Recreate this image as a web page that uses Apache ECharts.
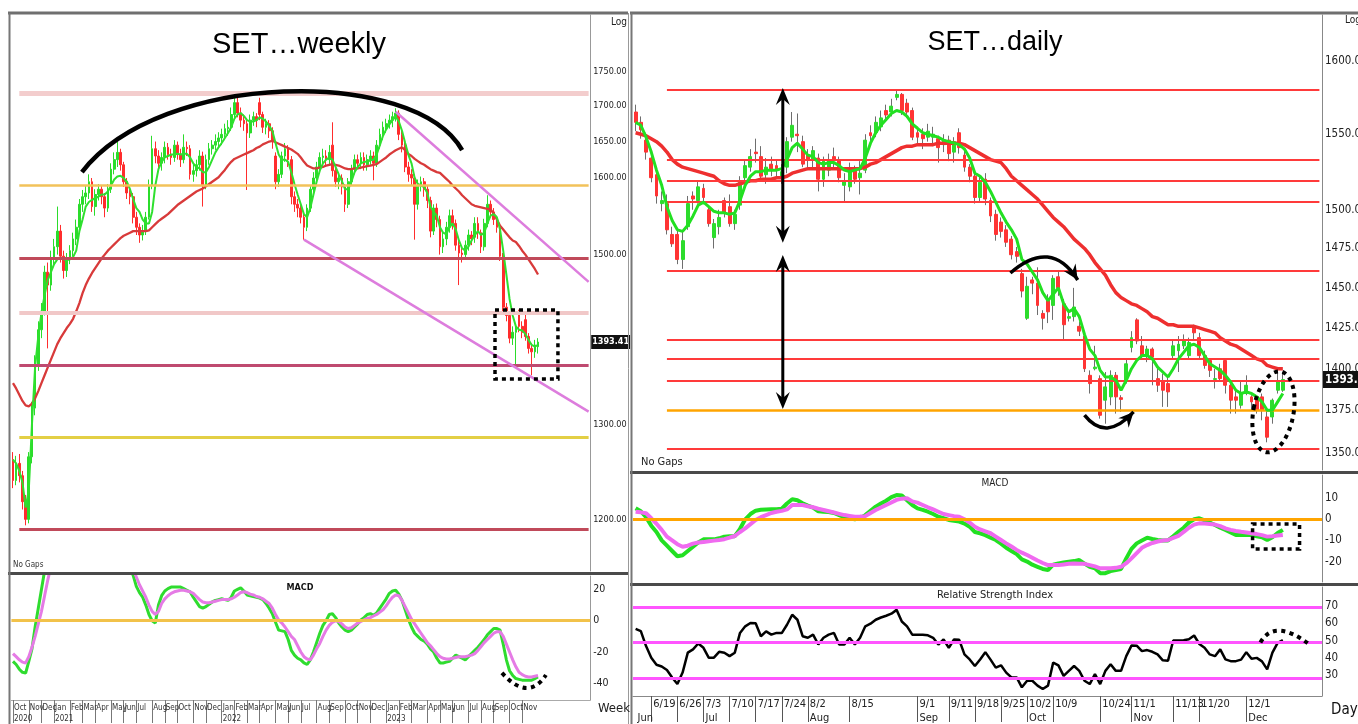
<!DOCTYPE html>
<html><head><meta charset="utf-8">
<script src="https://cdn.jsdelivr.net/npm/echarts/dist/echarts.min.js"></script>
<style>html,body{margin:0;padding:0;background:#fff}#c{width:1358px;height:724px}</style>
</head><body><div id="c"></div>
<script>
// ---------------- WEEKLY DATA (SET weekly, Oct 2020 - Dec 2023) ----------------
const weekOpen = [1262,1240,1258,1245,1218,1200,1265,1318,1368,1408,
 1430,1478,1462,1495,1510,1530,1498,1480,1495,1505,
 1520,1535,1565,1575,1580,1595,1562,1578,1585,1575,
 1560,1585,1612,1625,1635,1618,1595,1580,1575,1548,
 1535,1525,1530,1548,1590,1640,1630,1620,1628,1642,
 1632,1628,1645,1632,1625,1642,1640,1605,1610,1618,
 1630,1590,1625,1640,1645,1650,1655,1660,1668,1670,
 1688,1705,1690,1680,1675,1662,1680,1685,1705,1688,
 1670,1675,1665,1630,1595,1605,1630,1640,1625,1575,
 1565,1560,1548,1535,1560,1585,1600,1615,1628,1630,
 1625,1645,1610,1595,1600,1588,1565,1595,1612,1625,
 1620,1628,1618,1625,1630,1620,1645,1660,1670,1675,
 1680,1685,1690,1660,1645,1615,1605,1600,1565,1590,
 1595,1585,1570,1530,1560,1545,1510,1520,1535,1550,
 1540,1512,1502,1500,1512,1525,1522,1540,1528,1510,
 1540,1565,1555,1545,1535,1498,1435,1425,1398,1405,
 1428,1412,1420,1400,1386,1382,1388];
const weekClose = [1240,1258,1245,1218,1200,1265,1318,1368,1408,1430,
 1478,1462,1495,1510,1530,1498,1480,1495,1505,1520,
 1535,1565,1575,1580,1595,1562,1578,1585,1575,1560,
 1585,1612,1625,1635,1618,1595,1580,1575,1548,1535,
 1525,1530,1548,1590,1640,1630,1620,1628,1642,1632,
 1628,1645,1632,1625,1642,1640,1605,1610,1618,1630,
 1590,1625,1640,1645,1650,1655,1660,1668,1670,1688,
 1705,1690,1680,1675,1662,1680,1685,1680,1688,1670,
 1675,1665,1650,1595,1605,1630,1640,1625,1575,1565,
 1560,1548,1535,1560,1585,1600,1615,1628,1630,1625,
 1635,1610,1595,1600,1588,1565,1595,1612,1625,1620,
 1628,1618,1625,1630,1620,1645,1660,1670,1675,1680,
 1685,1690,1660,1645,1615,1605,1600,1565,1590,1595,
 1585,1570,1530,1560,1545,1510,1520,1535,1550,1540,
 1512,1502,1500,1512,1525,1520,1540,1528,1510,1540,
 1565,1555,1545,1535,1498,1435,1425,1398,1405,1410,
 1412,1405,1400,1386,1382,1390,1393.41];
const weekLow = [1232,1235,1238,1210,1194,1196,1258,1310,1360,1398,
 1425,1386,1455,1485,1500,1490,1470,1472,1488,1498,
 1512,1530,1555,1565,1572,1555,1550,1570,1565,1548,
 1555,1580,1605,1615,1610,1588,1572,1565,1540,1525,
 1515,1518,1525,1545,1585,1620,1612,1610,1620,1625,
 1618,1622,1625,1615,1620,1630,1598,1595,1602,1610,
 1562,1585,1618,1632,1638,1642,1645,1652,1658,1665,
 1682,1684,1670,1665,1584,1655,1672,1670,1680,1662,
 1660,1655,1640,1585,1588,1600,1622,1615,1565,1555,
 1548,1540,1519,1530,1555,1578,1595,1608,1618,1615,
 1618,1602,1588,1585,1578,1555,1560,1590,1605,1612,
 1612,1610,1610,1618,1597,1615,1640,1652,1662,1668,
 1670,1678,1652,1635,1608,1595,1590,1519,1558,1582,
 1575,1560,1522,1525,1535,1500,1502,1512,1528,1532,
 1505,1462,1490,1494,1505,1512,1515,1520,1502,1505,
 1535,1548,1538,1528,1492,1428,1418,1392,1390,1367,
 1405,1398,1395,1380,1355,1375,1380];
const weekHigh = [1270,1266,1268,1250,1225,1270,1325,1378,1418,1440,
 1486,1490,1505,1520,1562,1538,1505,1502,1512,1528,
 1545,1572,1584,1590,1605,1600,1585,1592,1590,1580,
 1592,1620,1635,1650,1640,1622,1600,1590,1580,1555,
 1540,1538,1555,1598,1658,1650,1638,1635,1650,1648,
 1640,1652,1650,1640,1660,1650,1645,1620,1625,1638,
 1636,1632,1648,1652,1660,1663,1668,1675,1680,1698,
 1716,1712,1698,1688,1682,1688,1692,1690,1712,1692,
 1682,1680,1670,1635,1612,1636,1648,1645,1630,1582,
 1572,1565,1555,1565,1590,1608,1622,1635,1640,1638,
 1645,1677,1615,1608,1605,1592,1600,1618,1632,1632,
 1635,1635,1632,1638,1636,1652,1668,1678,1682,1688,
 1692,1697,1694,1665,1650,1622,1612,1605,1598,1602,
 1600,1590,1575,1565,1566,1550,1528,1542,1558,1558,
 1545,1518,1510,1518,1532,1530,1548,1548,1532,1546,
 1577,1570,1560,1550,1540,1502,1440,1430,1412,1415,
 1432,1418,1428,1404,1392,1396,1398];
const weekMaShort = [1262,1258,1250,1238,1212,1230,1300,1365,1400,1428,
 1450,1468,1478,1488,1494,1496,1494,1493,1494,1497,
 1505,1530,1545,1562,1568,1571,1573,1575,1578,1578,
 1582,1590,1598,1602,1603,1600,1595,1585,1572,1560,
 1555,1545,1540,1540,1555,1590,1612,1622,1628,1630,
 1632,1632,1633,1632,1633,1633,1628,1620,1615,1613,
 1608,1608,1615,1625,1635,1642,1648,1655,1662,1670,
 1682,1688,1690,1686,1680,1678,1678,1680,1684,1682,
 1678,1672,1665,1648,1632,1625,1625,1622,1608,1592,
 1578,1565,1552,1548,1560,1578,1595,1610,1620,1625,
 1628,1625,1615,1605,1596,1585,1585,1595,1608,1615,
 1620,1622,1622,1624,1625,1632,1645,1658,1667,1674,
 1680,1685,1678,1665,1648,1632,1620,1600,1592,1590,
 1588,1580,1562,1555,1550,1535,1528,1526,1535,1540,
 1532,1518,1508,1505,1510,1518,1525,1530,1525,1528,
 1540,1550,1552,1548,1532,1505,1475,1445,1425,1412,
 1408,1407,1403,1396,1390,1388,1390];
const weekMaLong = [1346,1340,1333,1326,1321,1320,1323,1329,1337,1346,
 1355,1364,1373,1382,1391,1398,1404,1410,1415,1421,
 1430,1440,1452,1462,1470,1477,1483,1489,1495,1500,
 1505,1509,1513,1517,1521,1524,1526,1528,1530,1530,
 1530,1530,1530,1531,1535,1539,1543,1546,1549,1552,
 1556,1560,1564,1567,1570,1573,1576,1579,1582,1584,
 1586,1589,1592,1595,1598,1601,1606,1611,1617,1622,
 1626,1628,1630,1632,1634,1636,1638,1641,1643,1646,
 1648,1650,1651,1649,1647,1645,1643,1641,1639,1636,
 1633,1628,1622,1617,1615,1613,1613,1614,1615,1617,
 1618,1619,1618,1617,1615,1613,1612,1612,1613,1613,
 1614,1615,1616,1617,1618,1619,1622,1625,1628,1632,
 1635,1638,1640,1642,1638,1633,1630,1626,1623,1620,
 1618,1615,1612,1610,1608,1607,1603,1599,1595,1590,
 1586,1582,1577,1573,1569,1565,1563,1562,1561,1560,
 1559,1558,1553,1545,1537,1532,1527,1522,1518,1516,
 1511,1505,1500,1494,1488,1482,1475];
const weekMacd = [-26,-28,-31,-33,-33.5,-26,-18,-4,8,20,
 32,42,50,56,62,64,63,61,60,58,
 58,60,62,63,64,62,60,58,56,53,
 52,52,52,51,48,43,38,33,29,22,
 18,15,10,4,0,-1.5,10,16,19,20.5,
 21.5,21.5,21.5,21.5,20.5,19.5,18.5,15,12,9,
 8,9,10.5,12,13,13.5,14,13.5,13,15,
 19,20,21,19,16.5,16,15.5,15,14.5,13.5,
 11,8,4.5,-1,-6,-6.5,-7,-12,-19,-22,
 -24,-25,-27,-28,-25,-20,-14,-8,-3,0,
 4,4.5,2,-1.5,-4,-6,-7,-6,-4,-2,
 0.5,2,4,4.5,3.5,5,8,11,14,17.5,
 19,19.5,17,13,7,1,-4,-8,-10,-12,
 -13,-15,-18,-20,-24,-27,-27,-26.5,-26,-24,
 -22,-23,-24,-25,-23,-21,-19,-17,-14.5,-12,
 -9,-7,-5,-5,-6,-15,-25,-32,-35,-37,
 -37.5,-38,-38,-38,-38,-37,-36];
const weekSignal = [-21,-23,-25,-26.5,-27,-23,-17,-10,-2,6,
 16,26,35,42,48,53,57,59,60,60,
 60,60,61,62,62,62,61,60,58,56,
 55,54,53,52,50,47,43,38,33,28,
 23,19,15,10,6,4,6,11,14,16,
 17.5,18.5,19,19.5,19.5,19,18.5,17.5,15.5,13.5,
 12,11.5,11.5,12,12.5,13,13.5,13.5,13.5,14,
 15,16.5,18,18.5,18,17,16.5,15.5,15,14,
 12.5,11,8,4,0.5,-1.5,-4,-7,-10,-12,
 -16,-20,-23,-24.5,-25,-22,-18,-14.5,-10,-6,
 -3,-1,0,-0.5,-2,-4,-5,-4.5,-3,-1.5,
 -0.5,0.5,1.5,2,3,4,5.5,7,9.5,12.5,
 15,16.5,16,13,9,5,1,-2,-5,-8,
 -11,-14,-16,-18.5,-21,-23,-24,-24.5,-24.5,-24,
 -23.5,-23,-23,-23,-22.5,-22,-21,-19,-16.5,-14,
 -12,-10,-8,-7,-7,-10,-15,-20,-25,-29.5,
 -33,-34.5,-35.5,-36,-36,-35.5,-35];
const weekLevels = [1719, 1590, 1495, 1428, 1366, 1286, 1190];
const weekPriceTicks = [1750, 1700, 1650, 1600, 1500, 1300, 1200];
const weekMacdTicks = [20, 0, -20, -40];
const weekLast = 1393.41;

// ---------------- DAILY DATA (SET daily, 14 Jun - 14 Dec 2023) ----------------
const dayOpen = [1565,1558,1546,1534,1523,1504,1504,1484,1484,1468,
 1489,1509,1506,1514,1500,1482,1489,1506,1502,1491,
 1503,1521,1528,1538,1535,1523,1530,1529,1521,1528,
 1548,1550,1545,1536,1533,1534,1520,1526,1535,1533,
 1516,1515,1526,1521,1526,1551,1551,1555,1566,1565,
 1575,1577,1571,1566,1551,1550,1548,1548,1547,1543,
 1546,1538,1551,1536,1528,1522,1508,1520,1506,1497,
 1492,1487,1481,1473,1459,1431,1455,1453,1434,1442,
 1439,1457,1440,1431,1432,1426,1420,1396,1400,1394,
 1381,1383,1396,1382.5,1393,1413,1430,1414,1408,1412,
 1394,1392,1391,1408,1411,1414,1408,1426,1419,1408,
 1405,1393.5,1400,1405,1390,1383,1378,1385,1383,1383,
 1383,1371,1371,1387,1387];
const dayClose = [1558,1553,1538,1521,1509,1506,1487,1478,1468,1480,
 1504,1507,1515,1508,1491,1491,1495,1498,1491,1497,
 1518,1529,1535,1537,1522,1528,1526,1526,1525,1545,
 1556,1549,1530,1533,1539,1520,1532,1533,1533,1521,
 1519,1526,1520,1524,1546,1549,1558,1561,1563,1569,
 1577,1566,1565,1548,1548,1547,1552,1550,1541,1546,
 1537,1545,1541,1528,1522,1508,1518,1507,1496,1484,
 1486,1479,1471,1470,1448,1451,1453,1439,1431,1435,
 1456,1450,1427,1432,1438,1423,1400,1391,1401,1372,
 1389,1396,1383,1381.5,1403,1419,1417,1408,1412,1407,
 1390,1387,1386,1414,1415,1417,1416,1422,1408,1402,
 1399,1394,1394,1390,1381,1381,1385,1390,1380,1375,
 1375,1359,1381,1392,1393.41];
const dayLow = [1552,1547,1533,1518,1504,1499,1484,1476,1465,1462,
 1487,1500,1504,1505,1489,1475,1484,1495,1489,1487,
 1500,1516,1525,1531,1519,1517,1522,1521,1517,1524,
 1545,1538,1528,1526,1528,1512,1515,1522,1527,1518,
 1505,1512,1517,1510,1524,1544,1548,1552,1559,1562,
 1573,1563,1561,1546,1543,1540,1545,1542,1531,1538,
 1532,1531,1537,1525,1518,1504,1505,1503,1492,1480,
 1482,1476,1468,1466,1444,1430,1446,1433,1424,1428,
 1430,1445,1417,1429,1429,1420,1398,1385,1399,1370,
 1367,1378,1373,1374,1391,1410,1415,1406,1404,1390,
 1386,1377,1377,1406,1398,1412,1406,1418,1406,1400,
 1395,1388,1392,1385,1373,1373,1376,1384,1375,1373,
 1369,1356,1367,1385,1386];
const dayHigh = [1570,1562,1551,1536,1526,1512,1510,1489,1487,1486,
 1509,1512,1519,1517,1502,1494,1500,1508,1510,1500,
 1522,1533,1540,1547,1542,1534,1535,1533,1530,1548,
 1565,1564,1549,1540,1542,1537,1535,1537,1541,1535,
 1524,1531,1529,1532,1550,1556,1562,1566,1570,1574,
 1580,1578,1574,1568,1555,1554,1557,1555,1549,1550,
 1549,1548,1554,1540,1530,1525,1522,1524,1508,1500,
 1495,1490,1483,1476,1462,1457,1457,1463,1436,1446,
 1458,1461,1443,1435,1450,1429,1422,1399,1414,1396,
 1398,1399,1398,1384,1406,1423,1431,1420,1414,1413,
 1400,1397,1395,1417,1420,1421,1419,1427,1422,1411,
 1406,1400,1403,1406,1393,1388,1392,1396,1384,1383,
 1385,1375,1382,1398,1398];
const dayMaShort = [1558,1556,1548,1538,1526,1516,1502,1493,1487,1486,
 1490,1496,1503,1505,1502,1499,1498,1498,1497,1498,
 1506,1516,1522,1525,1525,1526,1526,1526,1527,1533,
 1541,1544,1540,1536,1535,1531,1530,1531,1531,1529,
 1526,1525,1526,1527,1534,1544,1551,1556,1560,1564,
 1566,1565,1562,1557,1554,1551,1550,1549,1548,1546,
 1545,1544,1543,1540,1534,1524,1522,1518,1512,1505,
 1498,1492,1487,1481,1468,1465,1460,1455,1447,1442,
 1446,1450,1440,1435,1437,1432,1421,1412,1408,1399,
 1395,1395,1393,1387,1393,1400,1405,1408,1408,1406,
 1401,1398,1395,1400,1406,1410,1414,1415,1413,1408,
 1403,1401,1399,1396,1392,1387,1385,1386,1385,1383,
 1380,1375,1375,1380,1385];
const dayMaLong = [1551,1550,1549,1547,1545,1542,1538,1533,1530,1528,
 1527,1526,1525,1524,1523,1522,1519,1517,1516,1516,
 1517,1518,1519,1519,1520,1520,1520,1521,1521,1522,
 1524,1525,1526,1527,1527,1527,1527,1527,1527,1527,
 1527,1527,1527,1527,1528,1530,1531,1533,1535,1537,
 1539,1541,1542,1542,1543,1543,1543,1543,1544,1544,
 1544,1544,1544,1543,1541,1539,1537,1535,1533,1532,
 1531,1527,1522,1519,1516,1513,1510,1507,1503,1499,
 1495,1492,1489,1485,1481,1478,1475,1471,1466,1462,
 1458,1452,1447,1444,1442,1440,1439,1437,1435,1432,
 1431,1429,1427,1427,1426,1426,1426,1426,1425,1424,
 1423,1422,1419,1417,1415,1414,1412,1410,1408,1406,
 1405,1402,1401,1400,1400];
const dayMacd = [5.2,3.8,1,-3,-6,-10,-12.5,-15,-17.5,-17,
 -15,-13,-11,-9.5,-9.5,-9.5,-9,-8.2,-8,-8,
 -4.5,0,2.5,4.1,4.5,4.7,4.8,4.8,5,7.5,
 9.5,9,7.6,6.5,5.5,3.8,3.6,3.5,3,2,
 1,0.5,0,0.5,2,4,6,7.5,8.8,10.5,
 11.5,11.3,9,6.8,5.2,4.5,3.6,2.5,1.2,0.5,
 -0.3,-0.7,-1.1,-2,-3.5,-6,-6.6,-7.5,-8.7,-9.8,
 -11.5,-13.5,-15,-16.5,-19,-20,-21.5,-22.5,-23.5,-24,
 -21.5,-20.9,-20.5,-20.1,-19.8,-19.3,-21,-22.5,-23.2,-25.5,
 -25.5,-24.5,-24,-23.5,-18.5,-14,-11.4,-10,-8.7,-9.3,
 -9.8,-10,-10,-8,-5.9,-4,-1.5,0,0.5,-0.5,
 -1.5,-2.7,-4,-5,-6.2,-7.4,-7.4,-7.4,-7.4,-8,
 -8.5,-9.8,-8.5,-6.5,-5];
const daySignal = [3.6,3.3,2.9,0.5,-2.1,-5,-8.2,-10,-11.8,-13,
 -12.5,-11.5,-11,-10.8,-10.4,-10.1,-9.8,-9.4,-8.7,-7.9,
 -6,-4.3,-2.3,-0.3,1,2,3,3.6,4,4.7,
 6.8,6.8,6.8,6.2,5.7,5,4.4,3.8,3.2,2.6,
 2,1.6,1.2,1.3,1.5,3,4.4,5.6,6.8,8,
 9.2,9.8,10,8.5,7.9,6.8,5.7,4.7,3.6,2.5,
 2,1.5,1.2,0,-1.5,-3.5,-4.8,-5.7,-6.6,-8.2,
 -9.8,-11.4,-12.9,-14.5,-15.8,-16.9,-18.2,-19.5,-20.7,-21.7,
 -21.7,-21.7,-21.4,-21.1,-20.9,-21,-21.1,-21.7,-22.3,-23.2,
 -23.2,-23.2,-23,-22.5,-20.8,-18.5,-16,-13.5,-12.2,-11.2,
 -10.5,-10,-9.8,-8.8,-7.8,-6,-4,-2.5,-1.9,-2,
 -2.2,-2.5,-3.2,-4.3,-5,-5.5,-5.9,-6.2,-6.6,-7,
 -7.5,-8.2,-8,-7.7,-7.4];
const dayRsi = [56.7,55.4,46.8,40.1,36,35,33,28.7,24.9,31.5,
 43,44.9,48.3,45.8,40.1,40.1,43.5,43,41,43,
 54.4,58.2,60.1,60,52.5,55.3,53.4,54.4,54.3,59.1,
 64.9,62,52.5,51.6,53.4,47.7,51.6,53.4,54.4,47.7,
 47.7,51.6,47.7,51.6,58.2,59.7,62,63.3,64.3,65.5,
 67.7,61,58.2,53.4,53.4,53.4,53,51.6,47.7,50.6,
 45.8,50.6,50.4,42,39.1,35.3,39.1,43.3,39,34.4,
 35.7,31.5,28.7,28.7,23,26.8,26.8,24,22,24,
 37.3,35.7,29.6,32.5,35.3,32.5,26.8,24.9,30.6,24.9,
 32.5,36.3,32.5,32.5,41,47.1,47,43.9,44.5,43.5,
 42,38.6,38.4,50,50,50.2,50.8,52.9,48,45.8,
 42,41,44.9,39.1,38.1,38.1,39,43.3,39.5,40,
 38,33.4,43,48.7,50.2];
const dayLevels = [1580, 1533, 1519, 1505, 1461, 1418, 1406, 1393, 1352];
const daySupport = 1375;
const dayPriceTicks = [1600, 1550, 1500, 1475, 1450, 1425, 1400, 1375, 1350];
const dayMacdTicks = [10, 0, -10, -20];
const dayRsiLines = [69, 49, 28];
const dayRsiTicks = [70, 60, 50, 40, 30];
const dayLast = 1393.41;
const dayTickLabels = ['6/19','6/26','7/3','7/10','7/17','7/24','8/2','8/15','9/1','9/11','9/18','9/25','10/2','10/9','10/24','11/1','11/13','11/20','12/1'];
const dayMonthLabels = {'6/14':'Jun','7/3':'Jul','8/2':'Aug','9/1':'Sep','10/2':'Oct','11/1':'Nov','12/1':'Dec'};
const dayHolidays = ['7/28','8/1','8/14','10/13','10/23','12/5','12/11','12/29'];
const MONTHS = ['Jan','Feb','Mar','Apr','May','Jun','Jul','Aug','Sep','Oct','Nov','Dec'];

// ---------------- categories ----------------
const weekDates = [];
for (let i = 0; i < 183; i++) { const d = new Date(2020, 9, 2 + 7 * i); weekDates.push(d.getFullYear() + '-' + (d.getMonth() + 1) + '-' + d.getDate()); }
const dayDates = [];
for (let d = new Date(2023, 5, 14); dayDates.length < 132; d.setDate(d.getDate() + 1)) {
  const wd = d.getDay(); if (wd === 0 || wd === 6) continue;
  const s = (d.getMonth() + 1) + '/' + d.getDate();
  if (dayHolidays.indexOf(s) >= 0) continue;
  dayDates.push(s);
}
function wParts(i) { const p = weekDates[i].split('-'); return { y: +p[0], m: +p[1] - 1 }; }
function weekLabelShow(i) { if (i > 163) return false; if (i === 0) return true; return wParts(i).m !== wParts(i - 1).m; }
function weekYearShow(i) { return i === 0 || (weekLabelShow(i) && wParts(i).m === 0); }

// ---------------- styles ----------------
const FN = "'Liberation Sans Narrow','DejaVu Sans Condensed','Liberation Sans',sans-serif";
const FS = "'Liberation Sans',Arial,sans-serif";
const wLevelColor = ['#f3cdcd', '#f2c25a', '#c04a5a', '#f1c8c8', '#bf4a70', '#e3cf45', '#c04a5a'];
const wLevelWidth = [5, 2.5, 3, 4, 3, 3, 3];

const chart = echarts.init(document.getElementById('c'));
const hid = { axisLine: { show: false }, axisTick: { show: false }, axisLabel: { show: false }, splitLine: { show: false } };
const noLine = { color: 'rgba(0,0,0,0)', width: 0, opacity: 1 };
function tickItem(v, txt, size) {
  return { yAxis: v, lineStyle: noLine, label: { show: true, opacity: 1, position: 'end', distance: 3, formatter: txt, color: '#222', fontSize: size, fontFamily: FN } };
}
function boxItem(v, size, pad) {
  return { yAxis: v, lineStyle: noLine, label: { show: true, opacity: 1, position: 'end', distance: 1, formatter: v.toFixed(2), color: '#fff', backgroundColor: '#111', padding: pad, fontSize: size, fontFamily: FN, fontWeight: 'bold' } };
}
const mlBase = { symbol: ['none', 'none'], silent: true, animation: false, label: { show: false } };

const option = {
  animation: false,
  textStyle: { fontFamily: FS },
  grid: [
    { left: 11.4, top: 15, width: 578.8, height: 556 },
    { left: 11.4, top: 576, width: 578.8, height: 124 },
    { left: 633, top: 15, width: 689, height: 455 },
    { left: 633, top: 475, width: 689, height: 107 },
    { left: 633, top: 587, width: 689, height: 110 }
  ],
  xAxis: [
    Object.assign({ gridIndex: 0, type: 'category', data: weekDates }, hid),
    { gridIndex: 1, type: 'category', data: weekDates, axisLine: { show: true, onZero: false, lineStyle: { color: '#aaa' } },
      axisTick: { show: true, alignWithLabel: true, interval: weekLabelShow, length: 23, lineStyle: { color: '#777' } },
      axisLabel: { interval: weekLabelShow, showMinLabel: true, formatter: (v, i) => MONTHS[wParts(i).m], align: 'left', padding: [0, 0, 0, 1], margin: 4, fontSize: 8, fontFamily: FN, color: '#333' }, splitLine: { show: false } },
    Object.assign({ gridIndex: 2, type: 'category', data: dayDates }, hid),
    Object.assign({ gridIndex: 3, type: 'category', data: dayDates }, hid),
    { gridIndex: 4, type: 'category', data: dayDates, axisLine: { show: true, onZero: false, lineStyle: { color: '#888' } },
      axisTick: { show: true, alignWithLabel: true, interval: (i, v) => dayTickLabels.indexOf(v) >= 0, length: 26, lineStyle: { color: '#555' } },
      axisLabel: { interval: (i, v) => dayTickLabels.indexOf(v) >= 0, align: 'left', padding: [0, 0, 0, 2], margin: 3, fontSize: 11, fontFamily: FN, color: '#222' }, splitLine: { show: false } },
    { gridIndex: 4, type: 'category', data: dayDates, position: 'bottom', offset: 14, axisLine: { show: false, onZero: false }, axisTick: { show: false },
      axisLabel: { interval: (i, v) => dayMonthLabels[v] !== undefined, showMinLabel: true, formatter: v => dayMonthLabels[v] || '', align: 'left', padding: [0, 0, 0, 2], margin: 3, fontSize: 11, fontFamily: FN, color: '#222' }, splitLine: { show: false } },
    { gridIndex: 1, type: 'category', data: weekDates, position: 'bottom', offset: 11, axisLine: { show: false, onZero: false }, axisTick: { show: false },
      axisLabel: { interval: weekYearShow, showMinLabel: true, formatter: (v, i) => String(wParts(i).y), align: 'left', padding: [0, 0, 0, 1], margin: 4, fontSize: 8, fontFamily: FN, color: '#333' }, splitLine: { show: false } }
  ],
  yAxis: [
    { gridIndex: 0, type: 'log', logBase: 10, min: 1148.9, max: 1835.7, position: 'right', axisLine: { show: true, lineStyle: { color: '#999' } }, axisTick: { show: false }, axisLabel: { show: false }, splitLine: { show: false } },
    { gridIndex: 1, type: 'value', min: -50.7, max: 28.6, position: 'right', axisLine: { show: true, onZero: false, lineStyle: { color: '#999' } }, axisTick: { show: false }, axisLabel: { show: false }, splitLine: { show: false } },
    { gridIndex: 2, type: 'log', logBase: 10, min: 1339.8, max: 1632.3, position: 'right', axisLine: { show: true, lineStyle: { color: '#888' } }, axisTick: { show: false }, axisLabel: { show: false }, splitLine: { show: false } },
    { gridIndex: 3, type: 'value', min: -29.7, max: 21, position: 'right', axisLine: { show: true, onZero: false, lineStyle: { color: '#888' } }, axisTick: { show: false }, axisLabel: { show: false }, splitLine: { show: false } },
    { gridIndex: 4, type: 'value', min: 18, max: 80.9, position: 'right', axisLine: { show: true, onZero: false, lineStyle: { color: '#888' } }, axisTick: { show: false }, axisLabel: { show: false }, splitLine: { show: false } }
  ],
  series: [
    { type: 'line', xAxisIndex: 0, yAxisIndex: 0, data: [], z: 1, silent: true,
      markLine: Object.assign({}, mlBase, { data: [].concat(
        weekLevels.map((v, k) => [{ coord: [2, v], lineStyle: { color: wLevelColor[k], width: wLevelWidth[k], type: 'solid' } }, { coord: [182, v] }]),
        [[{ coord: [121, 1692], lineStyle: { color: '#dd7ddd', width: 2.5, type: 'solid' } }, { coord: [182, 1466] }],
         [{ coord: [92, 1519], lineStyle: { color: '#dd7ddd', width: 2.5, type: 'solid' } }, { coord: [182, 1314] }]]
      ) }) },
    { type: 'line', xAxisIndex: 0, yAxisIndex: 0, data: [], z: 20, silent: true,
      markLine: Object.assign({}, mlBase, { data: [].concat(weekPriceTicks.map(v => tickItem(v, v.toFixed(2), 9)), [boxItem(weekLast, 9, [3, 1, 2, 1])]) }) },
    { type: 'candlestick', xAxisIndex: 0, yAxisIndex: 0, z: 2, barWidth: 2.2,
      data: weekOpen.map((o, i) => [o, weekClose[i], weekLow[i], weekHigh[i]]),
      itemStyle: { color: '#2bdc2b', color0: '#ff2d2d', borderColor: '#2bdc2b', borderColor0: '#ff2d2d', borderWidth: 1 } },
    { type: 'line', xAxisIndex: 0, yAxisIndex: 0, data: weekMaLong, symbol: 'none', z: 3, lineStyle: { color: '#d83a3a', width: 2.3 } },
    { type: 'line', xAxisIndex: 0, yAxisIndex: 0, data: weekMaShort, symbol: 'none', z: 4, lineStyle: { color: '#2fe02f', width: 2 } },
    { type: 'line', xAxisIndex: 1, yAxisIndex: 1, data: [], z: 1, silent: true,
      markLine: Object.assign({}, mlBase, { data: [{ yAxis: 0, lineStyle: { color: '#f2c24a', width: 3, type: 'solid' } }] }) },
    { type: 'line', xAxisIndex: 1, yAxisIndex: 1, data: [], z: 20, silent: true,
      markLine: Object.assign({}, mlBase, { data: weekMacdTicks.map(v => tickItem(v, String(v), 10.5)) }) },
    { type: 'line', xAxisIndex: 1, yAxisIndex: 1, data: weekMacd, symbol: 'none', z: 3, lineStyle: { color: '#2fdc2f', width: 3 } },
    { type: 'line', xAxisIndex: 1, yAxisIndex: 1, data: weekSignal, symbol: 'none', z: 4, lineStyle: { color: '#e57be5', width: 3 } },
    { type: 'line', xAxisIndex: 2, yAxisIndex: 2, data: [], z: 1, silent: true,
      markLine: Object.assign({}, mlBase, { data: [].concat(
        dayLevels.map(v => [{ coord: [6, v], lineStyle: { color: '#ff3a3a', width: 2, type: 'solid' } }, { coord: [131, v] }]),
        [[{ coord: [6, daySupport], lineStyle: { color: '#ffa400', width: 2.5, type: 'solid' } }, { coord: [131, daySupport] }]]
      ) }) },
    { type: 'line', xAxisIndex: 2, yAxisIndex: 2, data: [], z: 20, silent: true,
      markLine: Object.assign({}, mlBase, { data: [].concat(dayPriceTicks.map(v => tickItem(v, v.toFixed(2), 11.5)), [boxItem(dayLast, 11.5, [3, 2, 2, 2])]) }) },
    { type: 'candlestick', xAxisIndex: 2, yAxisIndex: 2, z: 2, barWidth: 1,
      data: dayOpen.map((o, i) => [o, dayClose[i], dayLow[i], dayHigh[i]]),
      itemStyle: { color: '#6e6e6e', color0: '#6e6e6e', borderColor: '#6e6e6e', borderColor0: '#6e6e6e', borderWidth: 1 } },
    { type: 'candlestick', xAxisIndex: 2, yAxisIndex: 2, z: 3, barWidth: 3.4,
      data: dayOpen.map((o, i) => [o, dayClose[i], Math.min(o, dayClose[i]), Math.max(o, dayClose[i])]),
      itemStyle: { color: '#2ddc2d', color0: '#ff3434', borderColor: '#2ddc2d', borderColor0: '#ff3434', borderWidth: 1 } },
    { type: 'line', xAxisIndex: 2, yAxisIndex: 2, data: dayMaLong, symbol: 'none', z: 4, lineStyle: { color: '#ee2f2f', width: 3.5 } },
    { type: 'line', xAxisIndex: 2, yAxisIndex: 2, data: dayMaShort, symbol: 'none', z: 5, lineStyle: { color: '#22e022', width: 3 } },
    { type: 'line', xAxisIndex: 3, yAxisIndex: 3, data: [], z: 1, silent: true,
      markLine: Object.assign({}, mlBase, { data: [{ yAxis: 0, lineStyle: { color: '#ffa500', width: 3, type: 'solid' } }] }) },
    { type: 'line', xAxisIndex: 3, yAxisIndex: 3, data: [], z: 20, silent: true,
      markLine: Object.assign({}, mlBase, { data: dayMacdTicks.map(v => tickItem(v, String(v), 11.5)) }) },
    { type: 'line', xAxisIndex: 3, yAxisIndex: 3, data: dayMacd, symbol: 'none', z: 3, lineStyle: { color: '#22e022', width: 4 } },
    { type: 'line', xAxisIndex: 3, yAxisIndex: 3, data: daySignal, symbol: 'none', z: 4, lineStyle: { color: '#f06af0', width: 4 } },
    { type: 'line', xAxisIndex: 4, yAxisIndex: 4, data: [], z: 1, silent: true,
      markLine: Object.assign({}, mlBase, { data: dayRsiLines.map(v => ({ yAxis: v, lineStyle: { color: '#ff55ff', width: 3, type: 'solid' } })) }) },
    { type: 'line', xAxisIndex: 4, yAxisIndex: 4, data: [], z: 20, silent: true,
      markLine: Object.assign({}, mlBase, { data: dayRsiTicks.map(v => tickItem(v, String(v), 11.5)) }) },
    { type: 'line', xAxisIndex: 4, yAxisIndex: 4, data: dayRsi, symbol: 'none', z: 3, lineStyle: { color: '#000', width: 2.5 } }
  ]
};
chart.setOption(option);

// ---------------- annotations anchored in data space ----------------
function P(g, c, v) {
  const f = Math.floor(c);
  const a = chart.convertToPixel({ xAxisIndex: g, yAxisIndex: g }, [f, v]);
  const b = chart.convertToPixel({ xAxisIndex: g, yAxisIndex: g }, [f + 1, v]);
  return [a[0] + (b[0] - a[0]) * (c - f), a[1]];
}
function quadCp(s, m, e) { return [2 * m[0] - (s[0] + e[0]) / 2, 2 * m[1] - (s[1] + e[1]) / 2]; }
function head(tip, from, L, W, N) {
  const dx = tip[0] - from[0], dy = tip[1] - from[1], len = Math.hypot(dx, dy) || 1;
  const ux = dx / len, uy = dy / len, px = -uy, py = ux;
  return { type: 'polygon', z: 100, silent: true, shape: { points: [[tip[0], tip[1]], [tip[0] - ux * L + px * W, tip[1] - uy * L + py * W], [tip[0] - ux * N, tip[1] - uy * N], [tip[0] - ux * L - px * W, tip[1] - uy * L - py * W]] }, style: { fill: '#000' } };
}
function quadEl(s, m, e, style) {
  const cp = quadCp(s, m, e);
  return { type: 'bezierCurve', z: 100, silent: true, shape: { x1: s[0], y1: s[1], x2: e[0], y2: e[1], cpx1: cp[0], cpy1: cp[1] }, style: Object.assign({ fill: null, stroke: '#000' }, style) };
}
function dblArrow(g, c, vTop, vBot) {
  const t = P(g, c, vTop), b = P(g, c, vBot);
  return [
    { type: 'line', z: 100, silent: true, shape: { x1: t[0], y1: t[1] + 8, x2: b[0], y2: b[1] - 8 }, style: { stroke: '#000', lineWidth: 3 } },
    head(t, b, 17, 7, 11), head(b, t, 17, 7, 11)
  ];
}
function curvedArrow(g, s, m, e) {
  const S = P(g, s[0], s[1]), M = P(g, m[0], m[1]), E = P(g, e[0], e[1]);
  const cp = quadCp(S, M, E);
  return [quadEl(S, M, E, { lineWidth: 3.5 }), head(E, cp, 15, 7, 10)];
}
function dotRect(g, c1, v1, c2, v2) {
  const a = P(g, c1, v1), b = P(g, c2, v2);
  return { type: 'rect', z: 100, silent: true, shape: { x: a[0], y: a[1], width: b[0] - a[0], height: b[1] - a[1] }, style: { fill: null, stroke: '#000', lineWidth: 3.5, lineDash: [4, 4] } };
}
const dots = { lineWidth: 4, lineDash: [4, 4.5] };
const g = [];
{ const s = P(0, 21.8, 1608), c1 = P(0, 46.5, 1752), c2 = P(0, 127.1, 1758), e = P(0, 142, 1638);
  g.push({ type: 'bezierCurve', z: 100, silent: true, shape: { x1: s[0], y1: s[1], x2: e[0], y2: e[1], cpx1: c1[0], cpy1: c1[1], cpx2: c2[0], cpy2: c2[1] }, style: { fill: null, stroke: '#000', lineWidth: 4.5 } }); }
g.push(dotRect(0, 152.4, 1431.5, 172.3, 1350.6));
g.push(quadEl(P(1, 154.6, -33.4), P(1, 162.2, -43), P(1, 168.5, -34.7), dots));
g.push.apply(g, dblArrow(2, 28.2, 1581.4, 1478.6));
g.push.apply(g, dblArrow(2, 28.2, 1470.9, 1375.8));
g.push.apply(g, curvedArrow(2, [71.8, 1459.4], [78.9, 1469.5], [84.7, 1455]));
g.push.apply(g, curvedArrow(2, [86, 1372.1], [90.4, 1364.5], [95.4, 1374]));
{ const cc = P(2, 122.2, 1374.8), l = P(2, 118.4, 1374.8), r = P(2, 126.1, 1374.8), t = P(2, 122.2, 1398.7), b = P(2, 122.2, 1349.8);
  g.push({ type: 'ellipse', z: 100, silent: true, originX: cc[0], originY: (t[1] + b[1]) / 2, rotation: -0.18,
    shape: { cx: cc[0], cy: (t[1] + b[1]) / 2, rx: (r[0] - l[0]) / 2, ry: (b[1] - t[1]) / 2 }, style: Object.assign({ fill: null, stroke: '#000' }, dots) }); }
g.push(dotRect(3, 118.2, -2.2, 127.2, -14.1));
g.push(quadEl(P(4, 119.7, 48.9), P(4, 123.4, 55.7), P(4, 129.1, 47.7), dots));

function ln(x1, y1, x2, y2, c, w) { return { type: 'line', z: 90, silent: true, shape: { x1, y1, x2, y2 }, style: { stroke: c, lineWidth: w } }; }
function tx(t, x, y, font, align, color) { return { type: 'text', z: 110, silent: true, style: { text: t, x, y, font, fill: color || '#000', textAlign: align || 'left', textVerticalAlign: 'middle', align: align || 'left', verticalAlign: 'middle' } }; }
g.push(ln(8, 13, 628, 13, '#6f6f6f', 3), ln(630, 13, 1358, 13, '#6f6f6f', 3),
  ln(8, 573.5, 628, 573.5, '#4a4a4a', 3), ln(630, 472.5, 1358, 472.5, '#4a4a4a', 3), ln(630, 584.5, 1358, 584.5, '#4a4a4a', 3),
  ln(9.5, 13, 9.5, 724, '#777', 2), ln(628.5, 13, 628.5, 724, '#999', 1), ln(631.5, 13, 631.5, 724, '#777', 2));
g.push(tx('SET…weekly', 299, 45, '29px ' + FS, 'center'),
  tx('SET…daily', 995, 43, '27px ' + FS, 'center'),
  tx('Log', 611, 22, '10px ' + FN, 'left', '#222'),
  tx('Log', 1345, 20, '10px ' + FN, 'left', '#222'),
  tx('No Gaps', 13, 565, '8px ' + FN, 'left', '#333'),
  tx('No Gaps', 641, 462, '11px ' + FN, 'left', '#222'),
  tx('MACD', 300, 588, 'bold 9px ' + FN, 'center', '#111'),
  tx('MACD', 995, 483, '10px ' + FN, 'center', '#222'),
  tx('Relative Strength Index', 995, 595, '11px ' + FN, 'center', '#222'),
  tx('Week', 598, 709, '13px ' + FN, 'left', '#222'),
  tx('Day', 1331, 710, '15px ' + FN, 'left', '#111'));
chart.setOption({ graphic: { elements: g } });
</script></body></html>
